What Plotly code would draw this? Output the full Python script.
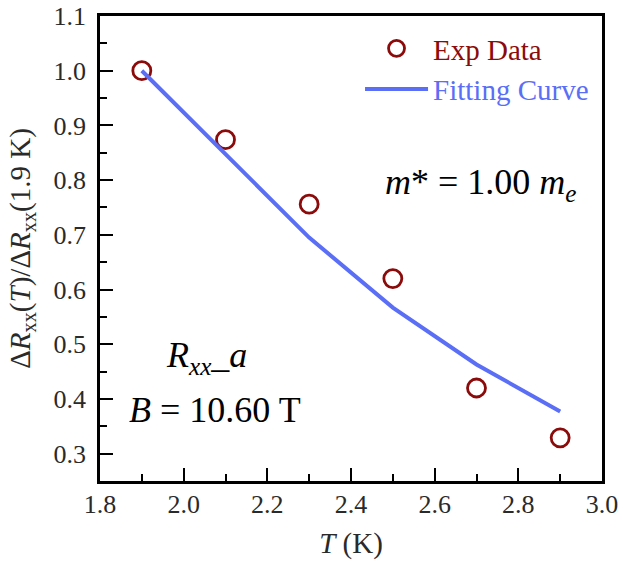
import plotly.graph_objects as go

# Measured normalized amplitude vs temperature
temp_exp = [1.9, 2.1, 2.3, 2.5, 2.7, 2.9]
ratio_exp = [1.000, 0.874, 0.756, 0.620, 0.420, 0.329]

# Lifshitz-Kosevich fit evaluated at the same temperatures
temp_fit = [1.9, 2.1, 2.3, 2.5, 2.7, 2.9]
ratio_fit = [1.000, 0.847, 0.695, 0.567, 0.463, 0.377]

x_ticks = [1.8, 2.0, 2.2, 2.4, 2.6, 2.8, 3.0]
y_ticks = [0.3, 0.4, 0.5, 0.6, 0.7, 0.8, 0.9, 1.0, 1.1]

SERIF = "Liberation Serif"
RED = "#8b0a0a"
BLUE = "#5a6ef6"
INK = "#2a2a2a"

fig = go.Figure()
fig.add_trace(go.Scatter(
    x=temp_exp, y=ratio_exp, mode="markers",
    name=f"<span style='color:{RED}'>Exp Data</span>",
    marker=dict(symbol="circle-open", size=18, color=RED, line=dict(width=2.8, color=RED)),
))
fig.add_trace(go.Scatter(
    x=temp_fit, y=ratio_fit, mode="lines",
    name=f"<span style='color:{BLUE}'>Fitting Curve</span>",
    line=dict(color=BLUE, width=4),
))

axis_common = dict(
    showline=True, linewidth=2.6, linecolor="black", mirror=True,
    ticks="inside", ticklen=13, tickwidth=2.4, tickcolor="black",
    showgrid=False, zeroline=False, automargin=False,
    ticklabeloverflow="allow",
    tickfont=dict(family=SERIF, size=26, color=INK),
)

fig.update_xaxes(
    range=[1.8, 3.0], tickvals=x_ticks, ticktext=[f"{v:.1f}" for v in x_ticks],
    minor=dict(ticks="inside", ticklen=7, tickwidth=2.2, tickcolor="black", dtick=0.1, showgrid=False),
    ticklabelstandoff=-2,
    title=dict(text="<i>T</i> (K)", font=dict(family=SERIF, size=29, color=INK)),
    **axis_common,
)
fig.update_yaxes(
    range=[0.25, 1.1], tickvals=y_ticks, ticktext=[f"{v:.1f}" for v in y_ticks],
    minor=dict(ticks="inside", ticklen=7, tickwidth=2.2, tickcolor="black", dtick=0.05, showgrid=False),
    ticklabelstandoff=6,
    title=dict(text="Δ<i>R</i><sub>xx</sub>(<i>T</i>)/Δ<i>R</i><sub>xx</sub>(1.9 K)",
               font=dict(family=SERIF, size=29, color=INK)),
    **axis_common,
)

fig.add_annotation(xref="paper", yref="paper", x=0.564, y=0.638, xanchor="left", showarrow=False,
                   text="<i>m</i>* = 1.00 <i>m</i><sub><i>e</i></sub>",
                   font=dict(family=SERIF, size=36, color="black"))
fig.add_annotation(xref="paper", yref="paper", x=0.128, y=0.213, xanchor="left", showarrow=False,
                   text="<i>R</i><sub><i>xx</i></sub>_<i>a</i>",
                   font=dict(family=SERIF, size=36, color="black"))
fig.add_annotation(xref="paper", yref="paper", x=0.053, y=0.105, xanchor="left", showarrow=False,
                   text="<i>B</i> = 10.60 T",
                   font=dict(family=SERIF, size=36, color="black"))

fig.update_layout(
    width=618, height=562,
    margin=dict(l=100, r=16, t=16, b=81),
    paper_bgcolor="white", plot_bgcolor="white",
    showlegend=True,
    legend=dict(x=0.518, y=0.985, xanchor="left", yanchor="top",
                bgcolor="rgba(0,0,0,0)", font=dict(family=SERIF, size=29),
                itemwidth=63, tracegroupgap=0),
)

fig.write_html("out.html")
